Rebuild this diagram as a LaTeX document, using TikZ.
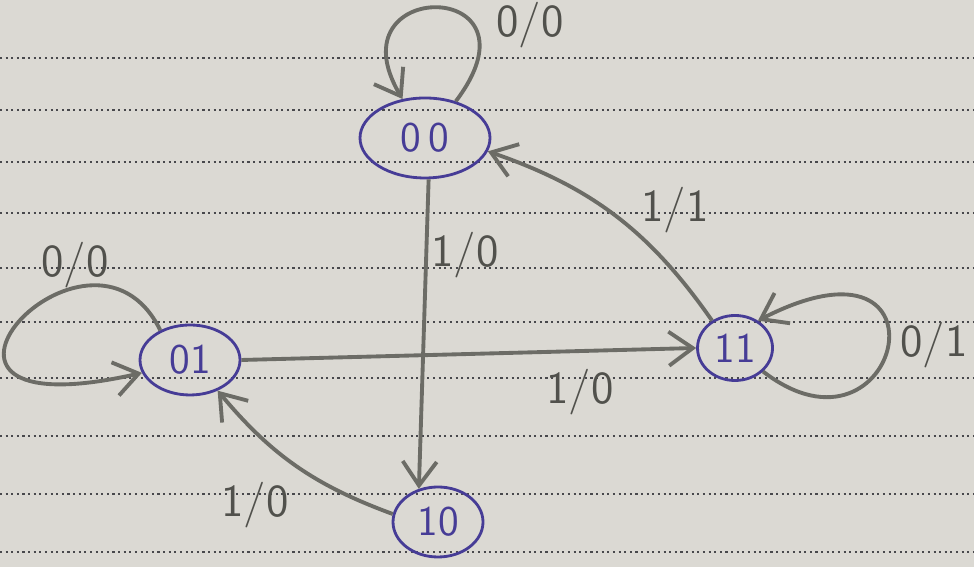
\documentclass[tikz,border=0pt]{standalone}
\usepackage{tikz}
\usetikzlibrary{shapes.geometric, arrows.meta}
\definecolor{paper}{RGB}{219,217,211}
\definecolor{ruling}{RGB}{72,72,76}
\definecolor{inkblue}{RGB}{70,60,150}
\definecolor{pencil}{RGB}{108,108,102}

\begin{document}
\begin{tikzpicture}[font=\sffamily,
  state/.style={ellipse, draw=inkblue, line width=0.8pt, inner sep=0pt, text=inkblue,
    font=\sffamily\fontsize{12}{14}\selectfont},
  trans/.style={draw=pencil, line width=1.1pt, -{Straight Barb[length=2.4mm,width=3.4mm]}},
  lbl/.style={text=pencil!75!black, font=\sffamily\fontsize{13}{15}\selectfont}]
  % paper with its rulings
  \fill[paper] (0,0) rectangle (9.74,5.67);
  \useasboundingbox (0,0) rectangle (9.74,5.67);
  \foreach \y in {5.09,4.57,4.05,3.54,2.99,2.45,1.89,1.31,0.73,0.15}
    \draw[ruling, densely dotted, line width=0.6pt] (0,\y) -- (9.74,\y);
  % states
  \node[state, minimum width=1.3cm, minimum height=0.8cm] (s00) at (4.25,4.29) {0\,0};
  \node[state, minimum width=1.0cm, minimum height=0.7cm] (s01) at (1.90,2.07) {01};
  \node[state, minimum width=0.75cm, minimum height=0.65cm] (s11) at (7.35,2.19) {11};
  \node[state, minimum width=0.9cm, minimum height=0.7cm] (s10) at (4.38,0.45) {10};
  % self loops
  \draw[trans] (s00.50) .. controls (5.5,5.9) and (3.3,5.9) .. (s00.120);
  \draw[trans] (s01.135) .. controls (0.9,3.8) and (-1.4,1.3) .. (s01.195);
  \draw[trans] (s11.-40) .. controls (9.0,0.9) and (9.6,3.5) .. (s11.50);
  % transitions
  \draw[trans] (s00.-85) -- (s10.120);
  \draw[trans] (s01.east) -- (s11.west);
  \draw[trans] (s11.130) to[bend right=18] (s00.-12);
  \draw[trans] (s10.170) to[bend left=15] (s01.-48);
  % labels
  \node[lbl] (l00) at (5.30,5.42) {0/0};
  \node[lbl] (l01) at (0.75,3.02) {0/0};
  \node[lbl] (l11) at (9.34,2.22) {0/1};
  \node[lbl] (ld) at (4.65,3.12) {1/0};
  \node[lbl] (lr) at (5.80,1.75) {1/0};
  \node[lbl] (lu) at (6.75,3.57) {1/1};
  \node[lbl] (lb) at (2.55,0.62) {1/0};
\end{tikzpicture}
\end{document}
